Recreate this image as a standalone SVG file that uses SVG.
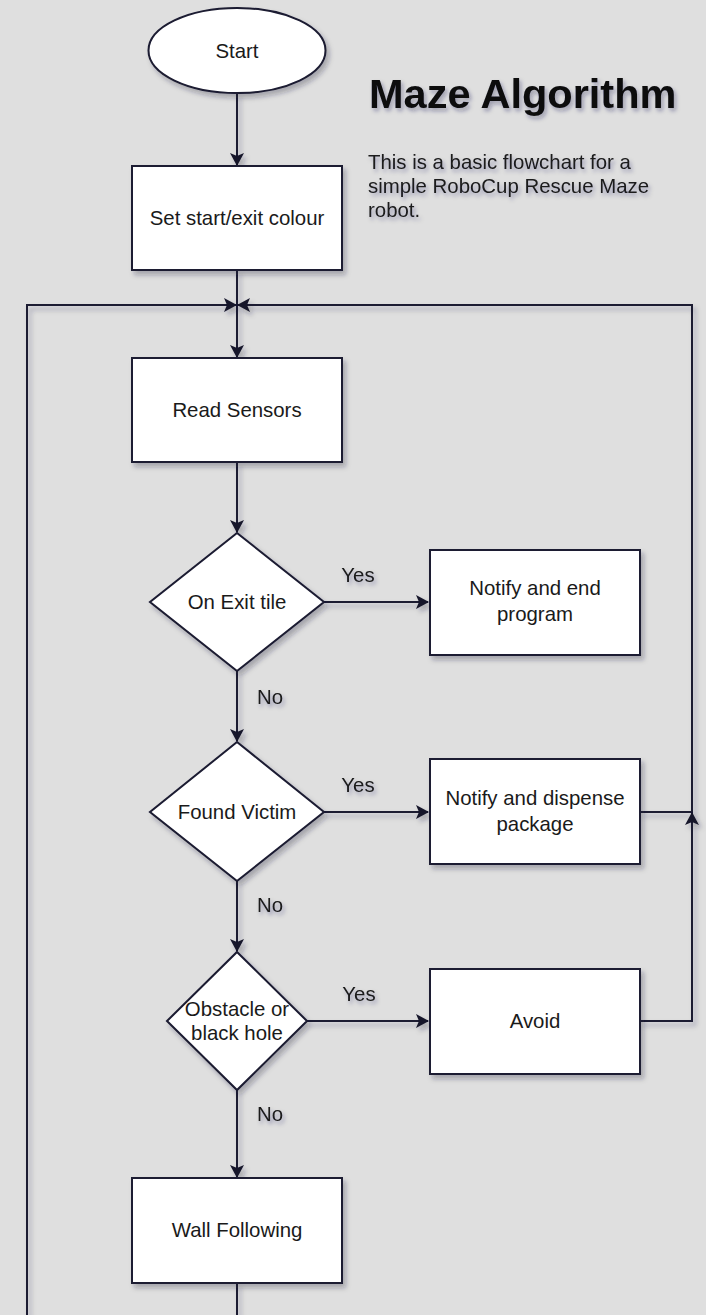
<svg xmlns="http://www.w3.org/2000/svg" width="706" height="1315" viewBox="0 0 706 1315">
<defs>
<filter id="sh" filterUnits="userSpaceOnUse" x="-50" y="-50" width="806" height="1415">
<feDropShadow dx="3" dy="4" stdDeviation="2.5" flood-color="#20203a" flood-opacity="0.3"/>
</filter>
<filter id="tsh" filterUnits="userSpaceOnUse" x="-50" y="-50" width="806" height="1415">
<feDropShadow dx="2" dy="3" stdDeviation="2" flood-color="#1a1a50" flood-opacity="0.35"/>
</filter>
<marker id="arr" viewBox="0 0 13 14" refX="12" refY="7" markerWidth="13" markerHeight="14" markerUnits="userSpaceOnUse" orient="auto">
<path d="M0,0 L13,7 L0,14 L3,7 Z" fill="#15152a"/>
</marker>
</defs>
<style>
.n{fill:#ffffff;stroke:#1a1a30;stroke-width:2;filter:url(#sh)}
.e{fill:none;stroke:#1a1a30;stroke-width:2;filter:url(#sh)}
.t{font-family:"Liberation Sans",Arial,sans-serif;font-size:20.4px;fill:#1a1a1a;text-anchor:middle}
.l{font-family:"Liberation Sans",Arial,sans-serif;font-size:20.4px;fill:#1a1a1a;text-anchor:middle;filter:url(#tsh)}
</style>
<rect x="0" y="0" width="706" height="1315" fill="#dfdfdf"/>

<g id="connectors">
<path class="e" d="M237,93 V165" marker-end="url(#arr)"/>
<path class="e" d="M237,270 V357" marker-end="url(#arr)"/>
<path class="e" d="M237,462 V532" marker-end="url(#arr)"/>
<path class="e" d="M324,602 H428" marker-end="url(#arr)"/>
<path class="e" d="M237,671 V741" marker-end="url(#arr)"/>
<path class="e" d="M324,812 H428" marker-end="url(#arr)"/>
<path class="e" d="M237,881 V951" marker-end="url(#arr)"/>
<path class="e" d="M307,1021 H428" marker-end="url(#arr)"/>
<path class="e" d="M237,1090 V1177" marker-end="url(#arr)"/>
<path class="e" d="M640,812 H692 V305 H238" marker-end="url(#arr)"/>
<path class="e" d="M640,1021 H692 V813" marker-end="url(#arr)"/>
<path class="e" d="M237,1283 V1320 M27,1320 V305 H236" marker-end="url(#arr)"/>
<text class="l" x="358" y="582">Yes</text>
<text class="l" x="270" y="704">No</text>
<text class="l" x="358" y="792">Yes</text>
<text class="l" x="270" y="912">No</text>
<text class="l" x="359" y="1001">Yes</text>
<text class="l" x="270" y="1121">No</text>
</g>

<g id="start">
<ellipse class="n" cx="237" cy="50.5" rx="88.5" ry="42.5"/>
<text class="t" x="237" y="58">Start</text>
</g>

<g id="title">
<text x="369" y="108" font-family="'Liberation Sans',Arial,sans-serif" font-size="41.5" font-weight="bold" fill="#0d0d0d" filter="url(#tsh)">Maze Algorithm</text>
</g>

<g id="description" font-family="'Liberation Sans',Arial,sans-serif" font-size="20.4" fill="#1a1a1a" filter="url(#tsh)">
<text x="368" y="169">This is a basic flowchart for a</text>
<text x="368" y="193">simple RoboCup Rescue Maze</text>
<text x="368" y="217">robot.</text>
</g>

<g id="set-colour">
<rect class="n" x="132" y="166" width="210" height="104"/>
<text class="t" x="237" y="225">Set start/exit colour</text>
</g>

<g id="read-sensors">
<rect class="n" x="132" y="358" width="210" height="104"/>
<text class="t" x="237" y="417">Read Sensors</text>
</g>

<g id="on-exit">
<path class="n" d="M237,533 L324,602 L237,671 L150,602 Z"/>
<text class="t" x="237" y="609">On Exit tile</text>
</g>

<g id="notify-end">
<rect class="n" x="430" y="550" width="210" height="105"/>
<text class="t" x="535" y="595">Notify and end</text>
<text class="t" x="535" y="621">program</text>
</g>

<g id="found-victim">
<path class="n" d="M237,742 L324,812 L237,881 L150,812 Z"/>
<text class="t" x="237" y="819">Found Victim</text>
</g>

<g id="notify-dispense">
<rect class="n" x="430" y="759" width="210" height="105"/>
<text class="t" x="535" y="805">Notify and dispense</text>
<text class="t" x="535" y="831">package</text>
</g>

<g id="obstacle">
<path class="n" d="M237,952 L307,1021 L237,1090 L167,1021 Z"/>
<text class="t" x="237" y="1016">Obstacle or</text>
<text class="t" x="237" y="1040">black hole</text>
</g>

<g id="avoid">
<rect class="n" x="430" y="969" width="210" height="105"/>
<text class="t" x="535" y="1028">Avoid</text>
</g>

<g id="wall-following">
<rect class="n" x="132" y="1178" width="210" height="105"/>
<text class="t" x="237" y="1237">Wall Following</text>
</g>
</svg>
